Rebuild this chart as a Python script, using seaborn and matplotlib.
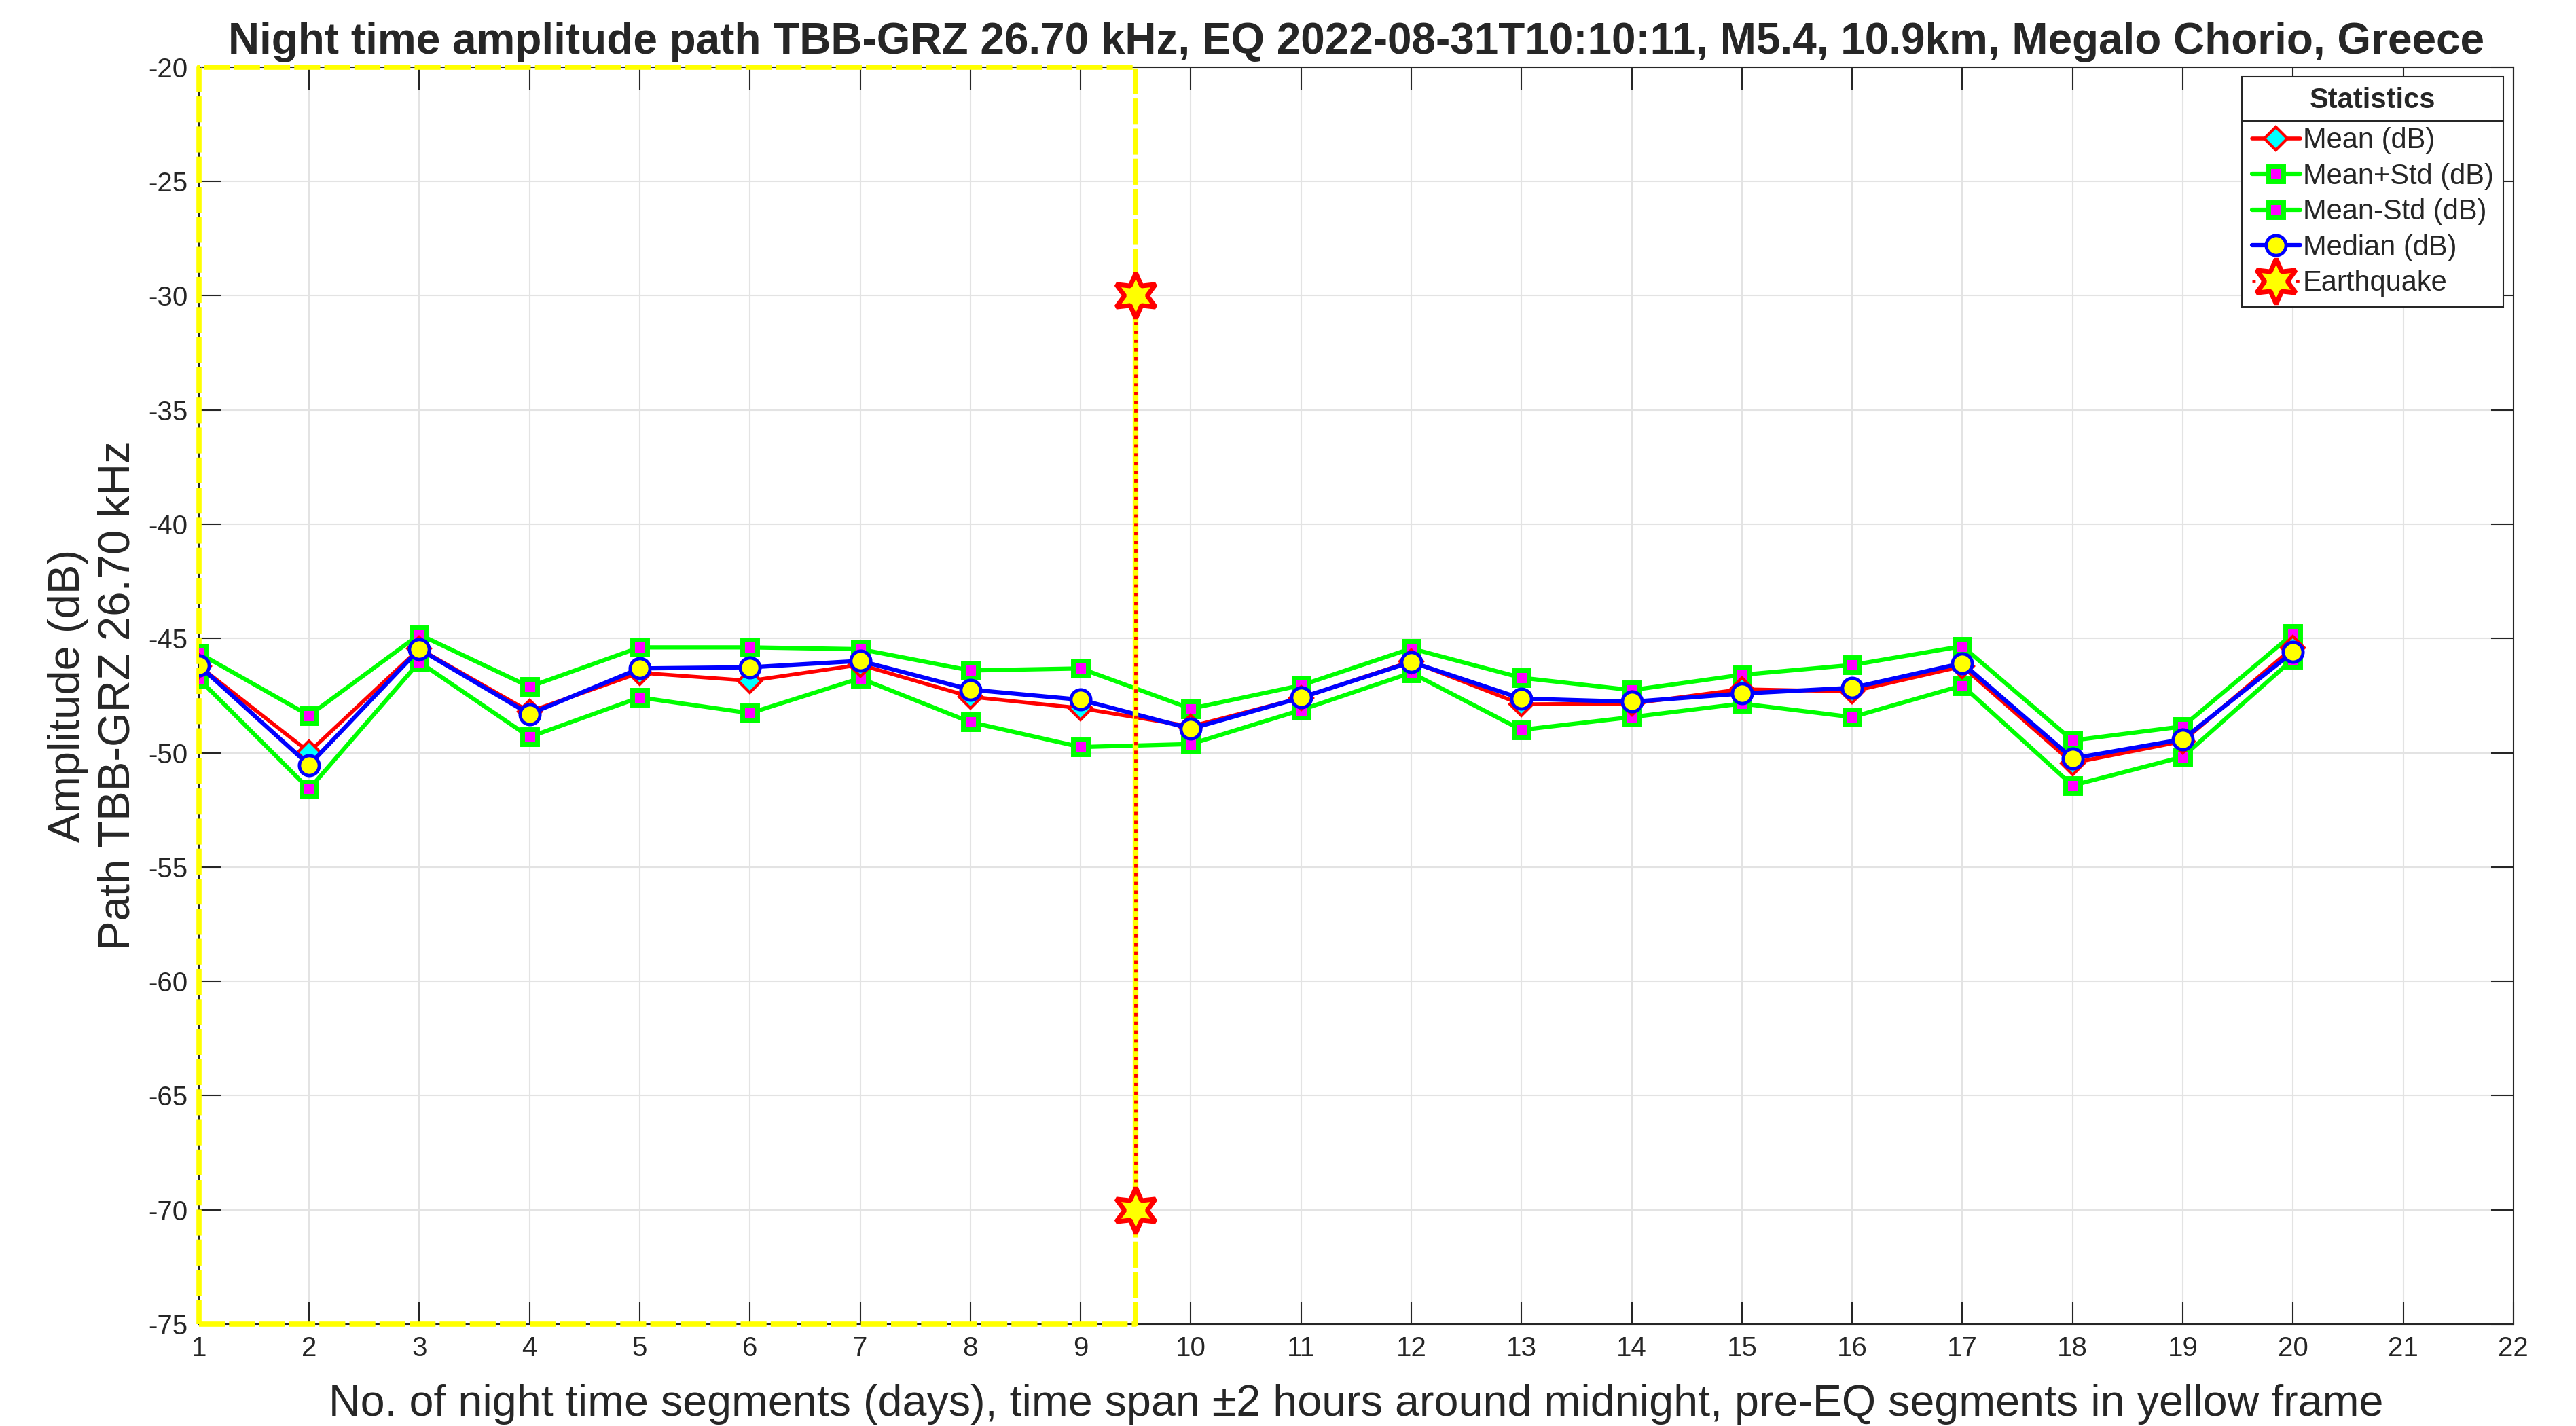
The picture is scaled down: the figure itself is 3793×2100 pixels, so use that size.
import matplotlib
matplotlib.use("Agg")
import matplotlib.pyplot as plt
from matplotlib.lines import Line2D
import seaborn as sns
import pandas as pd

# %%
# values
segments = list(range(1, 21))
mean_db = [-46.20, -49.97, -45.45, -48.20, -46.50, -46.85, -46.15, -47.55, -48.05, -48.85,
           -47.60, -46.00, -47.88, -47.85, -47.22, -47.32, -46.22, -50.45, -49.50, -45.40]
mean_plus_std = [-45.64, -48.37, -44.83, -47.11, -45.39, -45.39, -45.47, -46.40, -46.31, -48.07,
                 -47.05, -45.44, -46.72, -47.26, -46.59, -46.16, -45.34, -49.46, -48.85, -44.80]
mean_minus_std = [-46.77, -51.59, -46.03, -49.31, -47.58, -48.27, -46.74, -48.66, -49.75, -49.62,
                  -48.13, -46.50, -49.00, -48.44, -47.85, -48.44, -47.06, -51.43, -50.18, -45.90]
median_db = [-46.18, -50.54, -45.47, -48.31, -46.31, -46.26, -45.98, -47.24, -47.68, -48.95,
             -47.59, -46.03, -47.63, -47.77, -47.41, -47.16, -46.08, -50.25, -49.41, -45.59]
eq_segment = 9.5
eq_marks = [-30, -70]
x_ticks = list(range(1, 23))
y_ticks = list(range(-75, -19, 5))

title = ("Night time amplitude path TBB-GRZ 26.70 kHz, EQ 2022-08-31T10:10:11, "
         "M5.4, 10.9km, Megalo Chorio, Greece")
x_label = ("No. of night time segments (days), time span \u00b12 hours around midnight, "
           "pre-EQ segments in yellow frame")
y_label = "Amplitude (dB)\nPath TBB-GRZ 26.70 kHz"

df = pd.DataFrame({"seg": segments, "mean": mean_db, "up": mean_plus_std,
                   "low": mean_minus_std, "median": median_db})

# %%
sns.set_theme(style="ticks")
plt.rcParams["font.family"] = ["Liberation Sans", "DejaVu Sans"]
plt.rcParams["axes.unicode_minus"] = False
dark = "#262626"

fig = plt.figure(figsize=(37.93, 21), dpi=100)
ax = fig.add_axes([0.0772, 0.0714, 0.8985, 0.8816])

# yellow frame around pre-EQ segments
ax.plot([x_ticks[0], eq_segment, eq_segment, x_ticks[0], x_ticks[0]],
        [y_ticks[0], y_ticks[0], y_ticks[-1], y_ticks[-1], y_ticks[0]],
        color="yellow", linestyle="--", linewidth=5.5, dashes=(5, 0.8), zorder=3, clip_on=False)

sns.lineplot(data=df, x="seg", y="mean", ax=ax, color="red", linewidth=4,
             marker="D", markersize=17, markerfacecolor="cyan", markeredgecolor="red",
             markeredgewidth=3, label="Mean (dB)", zorder=5)
sns.lineplot(data=df, x="seg", y="up", ax=ax, color="#00ff00", linewidth=4.5,
             marker="s", markersize=16, markerfacecolor="magenta", markeredgecolor="#00ff00",
             markeredgewidth=5, label="Mean+Std (dB)", zorder=4)
sns.lineplot(data=df, x="seg", y="low", ax=ax, color="#00ff00", linewidth=4.5,
             marker="s", markersize=16, markerfacecolor="magenta", markeredgecolor="#00ff00",
             markeredgewidth=5, label="Mean-Std (dB)", zorder=4)
sns.lineplot(data=df, x="seg", y="median", ax=ax, color="blue", linewidth=4.5,
             marker="o", markersize=21, markerfacecolor="yellow", markeredgecolor="blue",
             markeredgewidth=3.5, label="Median (dB)", zorder=6)

# earthquake line
ax.plot([eq_segment] * len(eq_marks), eq_marks, color="yellow", linewidth=6, zorder=6)
sns.lineplot(x=[eq_segment] * len(eq_marks), y=eq_marks, ax=ax, estimator=None, sort=False,
             color="red", linestyle=":", linewidth=3.5, marker=(6, 1, 0), markersize=48,
             markerfacecolor="yellow", markeredgecolor="red", markeredgewidth=5,
             label="Earthquake", zorder=7)

ax.set_xlim(x_ticks[0], x_ticks[-1])
ax.set_ylim(y_ticks[0], y_ticks[-1])
ax.set_xticks(x_ticks)
ax.set_yticks(y_ticks)
ax.grid(True, color="#e3e3e3", linewidth=1.5)
ax.tick_params(direction="in", length=24, width=1.5, colors=dark, labelsize=29,
               top=True, right=True, pad=12)
for s in ax.spines.values():
    s.set_color(dark)
    s.set_linewidth(1.5)
    s.set_visible(True)

ax.set_title(title, fontsize=46, fontweight="bold", pad=14)
ax.set_xlabel(x_label, fontsize=46.5, color=dark, labelpad=24)
ax.set_ylabel(y_label, fontsize=47, color=dark, labelpad=10, linespacing=1.3)

handles, labels = ax.get_legend_handles_labels()
leg = ax.legend(handles, labels, title="Statistics", loc="upper right", fontsize=30,
                title_fontproperties={"weight": "bold", "size": 30},
                frameon=True, fancybox=False, edgecolor=dark, framealpha=1,
                borderaxespad=0.35, labelspacing=0.3, handlelength=1.7, handletextpad=0.1,
                borderpad=0.35)
leg.get_frame().set_linewidth(1.5)
leg._legend_box.sep = 14

# separator under the legend title
fig.canvas.draw()
rend = fig.canvas.get_renderer()
lb = leg.get_window_extent(rend)
tb = leg.get_title().get_window_extent(rend)
inv = fig.transFigure.inverted()
(x0, y0), (x1, _) = inv.transform([(lb.x0, tb.y0 - 10), (lb.x1, tb.y0 - 10)])
fig.add_artist(Line2D([x0, x1], [y0, y0], transform=fig.transFigure, color=dark,
                      linewidth=1.5, zorder=20))

fig.savefig("out.png", dpi=100)
